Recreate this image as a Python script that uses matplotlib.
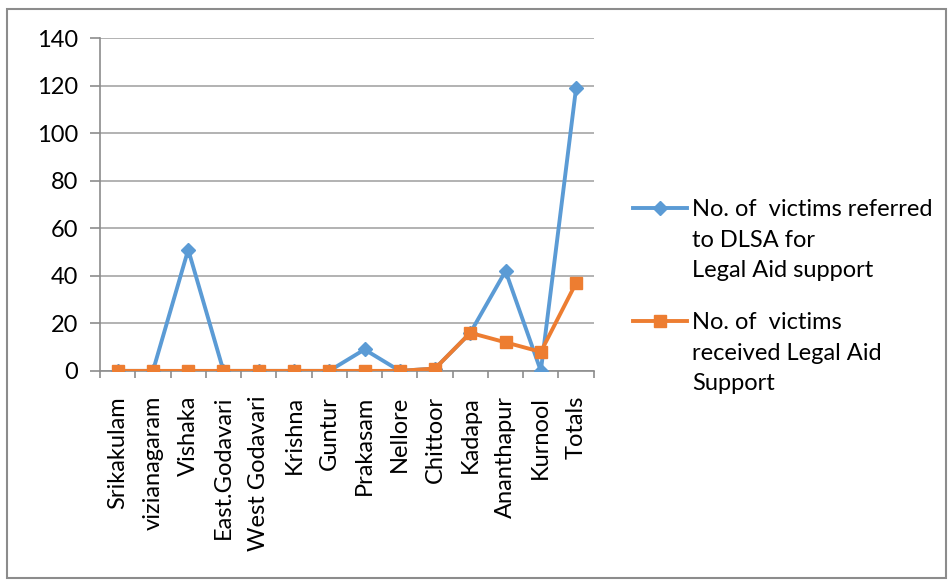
import matplotlib.pyplot as plt
import numpy as np
from matplotlib.patches import Rectangle
from matplotlib.lines import Line2D

districts = ['Srikakulam', 'vizianagaram', 'Vishaka', 'East.Godavari', 'West Godavari',
             'Krishna', 'Guntur', 'Prakasam', 'Nellore', 'Chittoor', 'Kadapa',
             'Ananthapur', 'Kurnool', 'Totals']
referred = [0, 0, 51, 0, 0, 0, 0, 9, 0, 1, 16, 42, 0, 119]
received = [0, 0, 0, 0, 0, 0, 0, 0, 0, 1, 16, 12, 8, 37]

label_referred = 'No. of  victims referred\nto DLSA for\nLegal Aid support'
label_received = 'No. of  victims\nreceived Legal Aid\nSupport'

blue = '#5b9bd5'
orange = '#ed7d31'

plt.rcParams['font.family'] = ['Lato', 'DejaVu Sans']

fig = plt.figure(figsize=(9.53, 5.85), dpi=100)
ax = fig.add_axes([0.105, 0.366, 0.518, 0.569])

# outer chart frame
fig.patches.append(Rectangle((0.007, 0.012), 0.986, 0.973, transform=fig.transFigure,
                             fill=False, edgecolor='#8c8c8c', linewidth=1.5))

x = np.arange(len(districts))
ax.plot(x, referred, color=blue, linewidth=2.8, marker='D', markersize=7, zorder=3)
ax.plot(x, received, color=orange, linewidth=2.8, marker='s', markersize=9, zorder=4)

ax.set_xlim(-0.5, len(districts) - 0.5)
ax.set_ylim(0, 140)
ax.set_yticks(range(0, 141, 20))
ax.yaxis.grid(True, color='#a6a6a6', linewidth=1.2)
ax.set_axisbelow(True)

ax.set_xticks(x)
ax.set_xticklabels(districts, rotation=90, fontsize=17)
ax.tick_params(axis='x', length=0, pad=18)
ax.set_xticks(np.arange(-0.5, len(districts), 1), minor=True)
ax.tick_params(axis='x', which='minor', length=5, color='#8c8c8c', width=1.2)
ax.tick_params(axis='y', labelsize=17, length=7, color='#8c8c8c', width=1.2, pad=9)

for side in ['top', 'right']:
    ax.spines[side].set_visible(False)
for side in ['left', 'bottom']:
    ax.spines[side].set_color('#8c8c8c')
    ax.spines[side].set_linewidth(1.2)

# legend: handle sits on the first line of each wrapped label
W, H = 953, 585
entries = [(blue, 'D', 7, label_referred, 208),
           (orange, 's', 9, label_received, 321)]
for color, marker, ms, text, ypix in entries:
    yf = 1 - ypix / H
    fig.add_artist(Line2D([633 / W, 660 / W, 687 / W], [yf, yf, yf],
                          transform=fig.transFigure, color=color, linewidth=2.8,
                          marker=marker, markersize=ms, markevery=[1]))
    fig.text(692 / W, 1 - (ypix - 9) / H, text, fontsize=17, va='top', ha='left',
             linespacing=1.56, transform=fig.transFigure)

fig.savefig('out.png', dpi=100, facecolor='white')
